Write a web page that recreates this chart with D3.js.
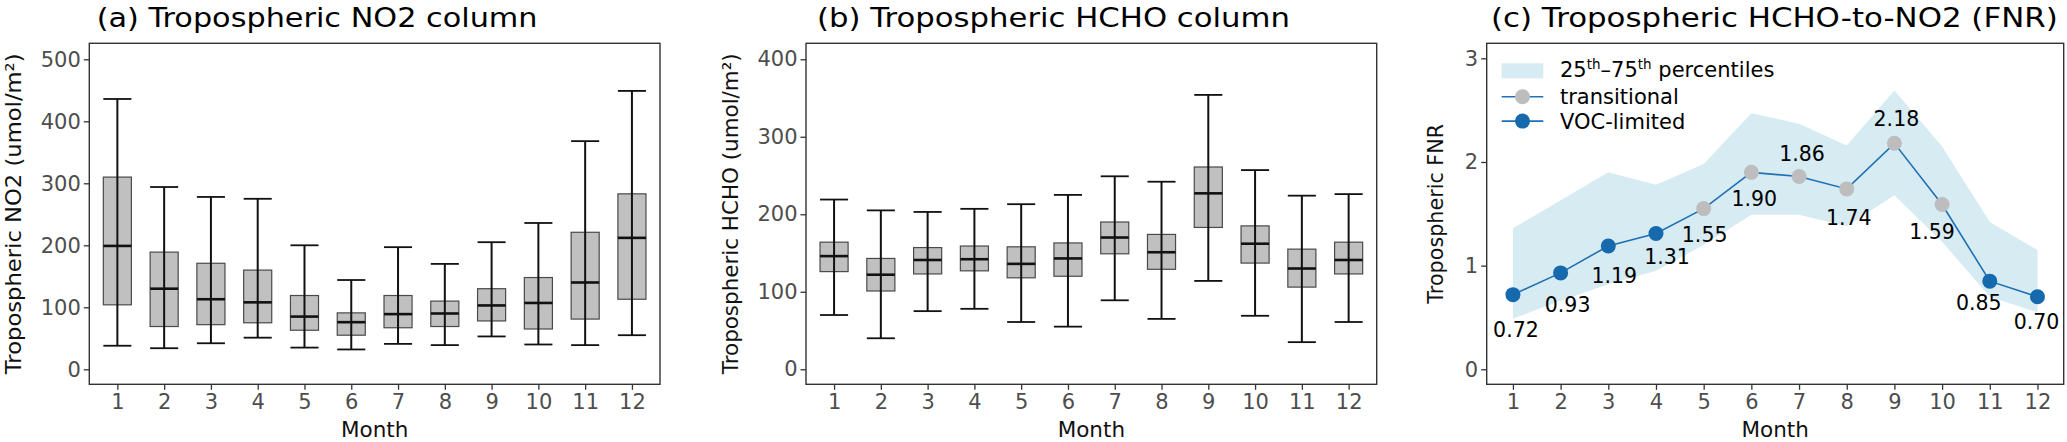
<!DOCTYPE html>
<html>
<head>
<meta charset="utf-8">
<script src="https://cdn.jsdelivr.net/npm/d3@7"></script>
<style>
  body { margin: 0; background: #fff; }
  svg { display: block; font-family: "DejaVu Sans", sans-serif; }
</style>
</head>
<body>
<div id="chart"></div>
<script>
// ---- data ----
var months = [1, 2, 3, 4, 5, 6, 7, 8, 9, 10, 11, 12];

// (a) tropospheric NO2 column, umol/m2
var no2Max = [436, 294, 278, 275, 200, 144, 197, 170, 205, 236, 368, 449];
var no2Q3  = [310, 189, 171, 160, 119, 91, 119, 110, 130, 148, 221, 283];
var no2Med = [199, 130, 113, 108, 85, 76, 89, 90, 103, 107, 140, 212];
var no2Q1  = [104, 69, 72, 75, 63, 55, 67, 69, 78, 65, 81, 113];
var no2Min = [38, 34, 42, 51, 35, 32, 41, 39, 53, 40, 39, 55];

// (b) tropospheric HCHO column, umol/m2
var hchoMax = [219, 205, 203, 207, 213, 225, 249, 242, 354, 257, 224, 226];
var hchoQ3  = [164, 143, 157, 159, 158, 163, 190, 174, 261, 185, 155, 164];
var hchoMed = [146, 122, 141, 142, 136, 143, 170, 151, 227, 162, 130, 141];
var hchoQ1  = [126, 101, 123, 127, 118, 120, 149, 129, 183, 137, 106, 123];
var hchoMin = [70, 40, 75, 78, 61, 55, 89, 65, 114, 69, 35, 61];

// (c) FNR
var fnrMed = [0.72, 0.93, 1.19, 1.31, 1.55, 1.90, 1.86, 1.74, 2.18, 1.59, 0.85, 0.70];
var fnrP75 = [1.36, 1.63, 1.90, 1.78, 1.98, 2.47, 2.37, 2.16, 2.69, 2.15, 1.42, 1.15];
var fnrP25 = [0.49, 0.66, 0.82, 0.95, 1.20, 1.49, 1.49, 1.38, 1.68, 1.23, 0.70, 0.55];
var fnrRegime = ["VOC-limited", "VOC-limited", "VOC-limited", "VOC-limited",
  "transitional", "transitional", "transitional", "transitional", "transitional", "transitional",
  "VOC-limited", "VOC-limited"];

var no2Ticks = [0, 100, 200, 300, 400, 500];
var hchoTicks = [0, 100, 200, 300, 400];
var fnrTicks = [0, 1, 2, 3];

// label offsets (px) for the FNR numbers, [dx, dy of baseline]
var labelNudge = [[3, 42], [7, 39], [6, 37], [11, 31], [1, 33], [3, 34],
  [3, -15], [2, 36], [2, -17], [-10, 35], [-11, 29], [-1, 32]];

// ---- layout ----
var W = 2067, H = 442;
var plotTop = 43.3, plotBottom = 384.3;
var tickLen = 5.5;
var inkColor = "#333333";
var tickTextColor = "#4d4d4d";
var regimeColor = { "transitional": "#bdbdbd", "VOC-limited": "#1769ae" };
var lineColor = "#1f70b4";
var bandColor = "#d6ebf2";

var svg = d3.select("#chart").append("svg")
  .attr("width", W)
  .attr("height", H);

svg.append("rect")
  .attr("width", W)
  .attr("height", H)
  .attr("fill", "white");

// stretches a text element to a given length along its own direction
function fitText(t, x, y, rot, target) {
  var len = t.node().getComputedTextLength();
  var k = target / len;
  t.attr("transform", "translate(" + x + "," + y + ")" + (rot ? " rotate(" + rot + ")" : "") + " scale(" + k + ",1)");
}

function title(x, str, width) {
  var t = svg.append("text")
    .attr("font-size", 26.5)
    .attr("fill", "#000")
    .text(str);
  fitText(t, x, 26.5, 0, width);
}

function yTitle(g, x, len, build) {
  var t = g.append("text")
    .attr("font-size", 21.5)
    .attr("fill", "#111")
    .attr("text-anchor", "middle");
  build(t);
  fitText(t, x, (plotTop + plotBottom) / 2, -90, len);
}

function axes(g, x, y, left, right, yTicks, tickFmt) {
  var ya = g.append("g")
    .attr("transform", "translate(" + left + ",0)")
    .call(d3.axisLeft(y).tickValues(yTicks).tickSize(tickLen).tickPadding(3).tickFormat(tickFmt));
  var xa = g.append("g")
    .attr("transform", "translate(0," + plotBottom + ")")
    .call(d3.axisBottom(x).tickValues(months).tickSize(tickLen).tickPadding(4).tickFormat(d3.format("d")));
  [ya, xa].forEach(function (a) {
    a.select(".domain").remove();
    a.selectAll(".tick line").attr("stroke", inkColor).attr("stroke-width", 1.3);
    a.selectAll(".tick text")
      .attr("font-family", "DejaVu Sans, sans-serif")
      .attr("font-size", 21)
      .attr("fill", tickTextColor);
  });

  g.append("rect")
    .attr("x", left)
    .attr("y", plotTop)
    .attr("width", right - left)
    .attr("height", plotBottom - plotTop)
    .attr("fill", "none")
    .attr("stroke", inkColor)
    .attr("stroke-width", 1.4);

  g.append("text")
    .attr("x", (left + right) / 2)
    .attr("y", 436.5)
    .attr("text-anchor", "middle")
    .attr("font-size", 21.5)
    .attr("fill", "#111")
    .text("Month");
}

function boxPanel(cfg) {
  var g = svg.append("g");
  var x = d3.scaleLinear().domain([0.4, 12.6]).range([cfg.left, cfg.right]);
  var y = d3.scaleLinear().domain(cfg.yDomain).range([plotBottom, plotTop]);
  var half = x(1.3) - x(1);   // boxes are 0.6 of a month wide

  var rows = months.map(function (m, i) {
    return { m: m, lo: cfg.min[i], q1: cfg.q1[i], med: cfg.med[i], q3: cfg.q3[i], hi: cfg.max[i] };
  });

  var box = g.selectAll("g.box").data(rows).enter().append("g").attr("class", "box");

  box.append("rect")
    .attr("x", function (d) { return x(d.m) - half; })
    .attr("y", function (d) { return y(d.q3); })
    .attr("width", half * 2)
    .attr("height", function (d) { return y(d.q1) - y(d.q3); })
    .attr("fill", "#c0c0c0")
    .attr("stroke", "#4a4a4a")
    .attr("stroke-width", 1.2);

  box.append("line")
    .attr("x1", function (d) { return x(d.m); })
    .attr("x2", function (d) { return x(d.m); })
    .attr("y1", function (d) { return y(d.lo); })
    .attr("y2", function (d) { return y(d.hi); })
    .attr("stroke", "#111")
    .attr("stroke-width", 2);

  ["lo", "hi"].forEach(function (k) {
    box.append("line")
      .attr("x1", function (d) { return x(d.m) - half; })
      .attr("x2", function (d) { return x(d.m) + half; })
      .attr("y1", function (d) { return y(d[k]); })
      .attr("y2", function (d) { return y(d[k]); })
      .attr("stroke", "#111")
      .attr("stroke-width", 1.8);
  });

  box.append("line")
    .attr("x1", function (d) { return x(d.m) - half; })
    .attr("x2", function (d) { return x(d.m) + half; })
    .attr("y1", function (d) { return y(d.med); })
    .attr("y2", function (d) { return y(d.med); })
    .attr("stroke", "#111")
    .attr("stroke-width", 2.6);

  axes(g, x, y, cfg.left, cfg.right, cfg.ticks, d3.format("d"));

  yTitle(g, cfg.left - 68.5, 321, function (t) {
    t.text(cfg.yLabel + " (umol/m²)");
  });
}

// ---- (a) and (b) ----
boxPanel({
  left: 89.3, right: 660, yDomain: [-24.2, 525.8], ticks: no2Ticks,
  min: no2Min, q1: no2Q1, med: no2Med, q3: no2Q3, max: no2Max,
  yLabel: "Tropospheric NO2"
});
boxPanel({
  left: 806, right: 1376.7, yDomain: [-19.4, 420.6], ticks: hchoTicks,
  min: hchoMin, q1: hchoQ1, med: hchoMed, q3: hchoQ3, max: hchoMax,
  yLabel: "Tropospheric HCHO"
});

title(96.7, "(a) Tropospheric NO2 column", 441);
title(817, "(b) Tropospheric HCHO column", 473);
title(1491, "(c) Tropospheric HCHO-to-NO2 (FNR)", 567);

// ---- (c) FNR ----
var cLeft = 1486.7, cRight = 2063.7;
var gc = svg.append("g");
var xc = d3.scaleLinear().domain([0.45, 12.55]).range([cLeft, cRight]);
var yc = d3.scaleLinear().domain([-0.145, 3.145]).range([plotBottom, plotTop]);

var fnr = months.map(function (m, i) {
  return { m: m, med: fnrMed[i], lo: fnrP25[i], hi: fnrP75[i], regime: fnrRegime[i], nudge: labelNudge[i] };
});

gc.append("path")
  .datum(fnr)
  .attr("d", d3.area()
    .x(function (d) { return xc(d.m); })
    .y0(function (d) { return yc(d.lo); })
    .y1(function (d) { return yc(d.hi); }))
  .attr("fill", bandColor);

gc.append("path")
  .datum(fnr)
  .attr("d", d3.line()
    .x(function (d) { return xc(d.m); })
    .y(function (d) { return yc(d.med); }))
  .attr("fill", "none")
  .attr("stroke", lineColor)
  .attr("stroke-width", 1.6);

gc.selectAll("circle.pt").data(fnr).enter().append("circle")
  .attr("class", "pt")
  .attr("cx", function (d) { return xc(d.m); })
  .attr("cy", function (d) { return yc(d.med); })
  .attr("r", 7.5)
  .attr("fill", function (d) { return regimeColor[d.regime]; });

gc.selectAll("text.lab").data(fnr).enter().append("text")
  .attr("class", "lab")
  .attr("x", function (d) { return xc(d.m) + d.nudge[0]; })
  .attr("y", function (d) { return yc(d.med) + d.nudge[1]; })
  .attr("text-anchor", "middle")
  .attr("font-size", 20.5)
  .attr("fill", "#000")
  .text(function (d) { return d3.format(".2f")(d.med); });

axes(gc, xc, yc, cLeft, cRight, fnrTicks, d3.format("d"));

yTitle(gc, 1442.8, 180, function (t) { t.text("Tropospheric FNR"); });

// legend
var lg = gc.append("g");
var lgX = 1501.7, lgW = 41.6, lgText = 1560;

lg.append("rect")
  .attr("x", lgX)
  .attr("y", 63.3)
  .attr("width", lgW)
  .attr("height", 15)
  .attr("fill", bandColor);

var pct = lg.append("text")
  .attr("x", lgText)
  .attr("y", 77)
  .attr("font-size", 21)
  .attr("fill", "#000");
pct.append("tspan").text("25");
pct.append("tspan").attr("font-size", 13.5).attr("dy", -8).text("th");
pct.append("tspan").attr("dy", 8).text("–75");
pct.append("tspan").attr("font-size", 13.5).attr("dy", -8).text("th");
pct.append("tspan").attr("dy", 8).text(" percentiles");

["transitional", "VOC-limited"].forEach(function (r, i) {
  var cy = 96.7 + i * 24.4;
  lg.append("line")
    .attr("x1", lgX)
    .attr("x2", lgX + lgW)
    .attr("y1", cy)
    .attr("y2", cy)
    .attr("stroke", lineColor)
    .attr("stroke-width", 1.6);
  lg.append("circle")
    .attr("cx", lgX + lgW / 2)
    .attr("cy", cy)
    .attr("r", 7.5)
    .attr("fill", regimeColor[r]);
  lg.append("text")
    .attr("x", lgText)
    .attr("y", cy + 7.7)
    .attr("font-size", 21)
    .attr("fill", "#000")
    .text(r);
});
</script>
</body>
</html>
